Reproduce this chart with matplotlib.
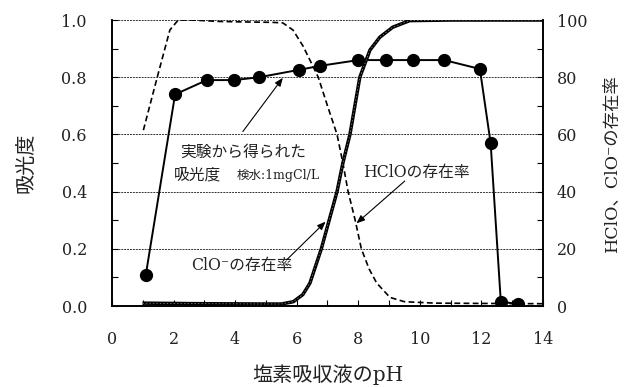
import numpy as np
import matplotlib
matplotlib.use("Agg")
import matplotlib.pyplot as plt
from matplotlib.ticker import MultipleLocator

SERIF_JP = ["DejaVu Serif", "Noto Sans CJK JP"]
JP = ["Noto Sans CJK JP", "DejaVu Serif"]

# 実験値（吸光度）
ph_meas = [1.1, 2.05, 3.08, 3.97, 4.78, 6.08, 6.77, 8.0, 8.9, 9.78, 10.79, 11.95, 12.3, 12.63, 13.2]
abs_meas = [0.11, 0.74, 0.79, 0.79, 0.80, 0.826, 0.84, 0.86, 0.86, 0.86, 0.86, 0.829, 0.569, 0.015, 0.007]

# HClO の存在率 (%)
ph_hclo = [1.02, 1.47, 1.88, 2.15, 2.6, 3.5, 4.5, 5.2, 5.55, 5.88, 6.2, 6.43, 6.7, 7.0, 7.31,
           7.5, 7.67, 7.9, 8.1, 8.35, 8.6, 9.03, 9.5, 10.5, 12.0, 14.0]
hclo = [61.5, 80, 96.5, 100, 100, 99.5, 99.3, 99.2, 99, 96.5, 91, 86, 80, 70, 60,
        50, 40, 30, 20, 13, 8, 3, 1.5, 1, 0.9, 0.8]

# ClO- の存在率 (%)
ph_clo = [0.99, 3.0, 5.0, 5.5, 5.89, 6.2, 6.43, 6.8, 7.08, 7.31, 7.5, 7.73, 8.05, 8.38, 8.7,
          9.12, 9.67, 11.0, 14.0]
clo = [1, 0.8, 0.7, 0.7, 1.5, 4, 8, 20, 31, 40, 50, 60, 80, 89.5, 94,
       97.5, 99.8, 100, 100]

fig = plt.figure(figsize=(6.27, 3.87), dpi=100)
ax = fig.add_axes([0.1786, 0.2093, 0.6874, 0.7389])
ax2 = ax.twinx()

# 存在率カーブ（右軸）
ax2.plot(ph_hclo, hclo, color="black", lw=1.2, ls=(0, (3.5, 2)))
ax2.plot(ph_clo, clo, color="black", lw=2.5, solid_capstyle="butt")
ax2.plot(ph_clo, clo, color="white", lw=0.5, ls=(0, (2, 3)), alpha=0.6)

# 実験値（左軸）
ax.plot(ph_meas, abs_meas, color="black", lw=1.4, marker="o", ms=8.5, zorder=5)

ax.set_xlim(0, 14)
ax.set_ylim(0, 1.0)
ax2.set_ylim(0, 100)

for yv in [0.2, 0.4, 0.6, 0.8, 1.0]:
    ax.axhline(yv, color="#333333", lw=0.7, ls=(0, (2, 1)), zorder=0)

ax.xaxis.set_major_locator(MultipleLocator(2))
ax.xaxis.set_minor_locator(MultipleLocator(1))
ax.yaxis.set_major_locator(MultipleLocator(0.2))
ax.yaxis.set_minor_locator(MultipleLocator(0.1))
ax2.yaxis.set_major_locator(MultipleLocator(20))
ax2.yaxis.set_minor_locator(MultipleLocator(10))

for a in (ax, ax2):
    a.spines["top"].set_visible(False)
    a.tick_params(which="both", direction="in", length=4, width=0.8, top=False)
    for s in ["left", "right", "bottom"]:
        a.spines[s].set_linewidth(1.2)

ax.tick_params(axis="y", which="both", right=False)
ax2.tick_params(axis="y", which="both", left=False)
ax.tick_params(axis="x", pad=18)
ax.tick_params(axis="y", pad=18)
ax2.tick_params(axis="y", pad=10)

ax.set_xticklabels([f"{v:g}" for v in ax.get_xticks()])
ax.set_yticks([0.0, 0.2, 0.4, 0.6, 0.8, 1.0])
ax.set_yticklabels(["0.0", "0.2", "0.4", "0.6", "0.8", "1.0"])
for lab in ax.get_xticklabels() + ax.get_yticklabels() + ax2.get_yticklabels():
    lab.set_fontfamily("DejaVu Serif")
    lab.set_fontsize(11.5)
    lab.set_color("#222222")

ax.set_xlabel("塩素吸収液のpH", family=SERIF_JP, fontsize=14.5, labelpad=12, color="#222222")
ax.set_ylabel("吸光度", family=JP, fontsize=14.5, labelpad=18, color="#222222")
ax2.set_ylabel("HClO、ClO⁻の存在率", family=SERIF_JP, fontsize=12.5, labelpad=12, color="#222222")

# 注記
ax.text(4.25, 0.538, "実験から得られた", family=JP, fontsize=11.3, ha="center", va="center", color="#222222")
ax.text(2.78, 0.458, "吸光度", family=JP, fontsize=11.3, ha="center", va="center", color="#222222")
ax.text(5.39, 0.458, "検水:1mgCl/L", family=SERIF_JP, fontsize=9, ha="center", va="center", color="#222222")
ax.text(9.9, 0.468, "HClOの存在率", family=SERIF_JP, fontsize=11.3, ha="center", va="center", color="#222222")
ax.text(4.2, 0.143, "ClO⁻の存在率", family=SERIF_JP, fontsize=11.3, ha="center", va="center", color="#222222")

arrow = dict(arrowstyle="-|>,head_length=0.5,head_width=0.2", color="black", lw=0.8, shrinkA=0, shrinkB=0)
ax.annotate("", xy=(5.55, 0.798), xytext=(4.25, 0.61), arrowprops=arrow)
ax.annotate("", xy=(7.94, 0.289), xytext=(9.51, 0.437), arrowprops=arrow)
ax.annotate("", xy=(6.94, 0.295), xytext=(5.67, 0.161), arrowprops=arrow)

fig.savefig("out.png", dpi=100)
